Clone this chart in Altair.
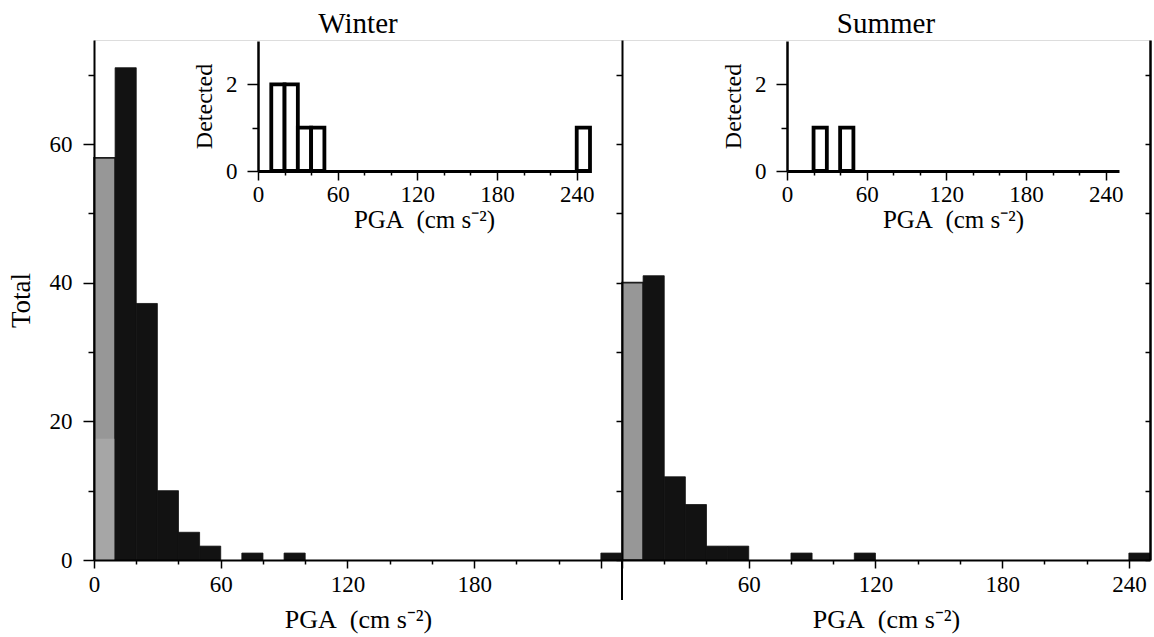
import altair as alt
import pandas as pd

# ---------------- data ----------------
bin_lo = list(range(0, 250, 10))            # PGA bins, width 10 cm s^-2
bin_w = 10
winter_total = [58, 71, 37, 10, 4, 2, 0, 1, 0, 1] + [0] * 14 + [1]
summer_total = [40, 41, 12, 8, 2, 2, 0, 0, 1, 0, 0, 1] + [0] * 12 + [1]
winter_detected = [0, 2, 2, 1, 1] + [0] * 19 + [1]
summer_detected = [0, 0, 1, 0, 1] + [0] * 19 + [0]
shaded_bin = 0                               # first bin drawn grey
winter_lower_band = 17.5                     # lighter grey lower part (winter)
x_ticks = list(range(0, 241, 20))
y_ticks = list(range(0, 71, 10))
inset_y_ticks = [0, 1, 2]

# ---------------- layout ----------------
PW = 528            # one panel width (px)
H = 520             # plot height
W = 2 * PW
FONT = "Liberation Serif"
inset_x_rng = (164, 496)
inset_y_rng = (131, 1)
inset_shift = 529   # summer inset offset relative to winter inset


def main_df(counts, lower_band=None):
    rows = []
    for lo, c in zip(bin_lo, counts):
        if c <= 0:
            continue
        if lo // bin_w == shaded_bin:
            rows.append(dict(x0=lo, x1=lo + bin_w, y0=0, y1=c,
                             fill="#979797", stroke="#1e1e1e", sw=1.6))
            if lower_band is not None:
                rows.append(dict(x0=lo + 0.3, x1=lo + bin_w - 0.3, y0=0, y1=lower_band,
                                 fill="#a6a6a6", stroke="#a6a6a6", sw=0))
        else:
            rows.append(dict(x0=lo, x1=lo + bin_w, y0=0, y1=c,
                             fill="#121212", stroke="#121212", sw=0.8))
    return pd.DataFrame(rows)


def inset_df(counts):
    rows = [dict(x0=lo, x1=lo + bin_w, y0=0, y1=c)
            for lo, c in zip(bin_lo, counts) if c > 0]
    return pd.DataFrame(rows)


common_axis = dict(domainColor="black", tickColor="black", labelColor="black",
                   titleColor="black", labelFont=FONT, titleFont=FONT,
                   titleFontWeight="normal", grid=False, zindex=1)

PGA_TITLE = "PGA\u00a0\u00a0(cm s\u207b\u00b2)"


def main_x_axis(label_test):
    return alt.Axis(orient="bottom", values=x_ticks,
                    labelExpr=f"({label_test}) ? datum.label : ''",
                    tickSize={"condition": {"test": "datum.value % 60 === 0", "value": 8}, "value": 4},
                    tickWidth=1.5, domainWidth=2, labelFontSize=23, titleFontSize=26,
                    labelFlush=False, labelOverlap=False, labelPadding=5,
                    title=PGA_TITLE, titlePadding=10, **common_axis)


def main_layer(df, x_range, x_axis, y_axis):
    return alt.Chart(df).mark_rect().encode(
        x=alt.X("x0:Q", scale=alt.Scale(domain=[0, 250], range=list(x_range)), axis=x_axis),
        x2="x1:Q",
        y=alt.Y("y1:Q", scale=alt.Scale(domain=[0, 75], range=[H, 0]), axis=y_axis),
        y2="y0:Q",
        fill=alt.Fill("fill:N", scale=None),
        stroke=alt.Stroke("stroke:N", scale=None),
        strokeWidth=alt.StrokeWidth("sw:Q", scale=None),
    )


left_y_axis = alt.Axis(orient="left", values=y_ticks,
                       labelExpr="datum.value % 20 === 0 ? datum.label : ''",
                       tickSize={"condition": {"test": "datum.value % 20 === 0", "value": 11}, "value": 6},
                       tickWidth=1.5, domainWidth=2, labelFontSize=23, titleFontSize=27,
                       labelPadding=11, title="Total", titlePadding=14, **common_axis)
right_y_axis = alt.Axis(orient="left", offset=-PW, values=y_ticks, labels=False, title=None,
                        tickSize=6, tickWidth=1.5, domainWidth=2, **common_axis)

left_main = main_layer(main_df(winter_total, winter_lower_band), (0, PW),
                       main_x_axis("datum.value % 60 === 0 && datum.value < 240"), left_y_axis)
right_main = main_layer(main_df(summer_total), (PW, W),
                        main_x_axis("datum.value % 60 === 0 && datum.value > 0"), right_y_axis)

# right border + downward extension of the summer y axis
border = alt.Chart(pd.DataFrame({"v": [0]})).mark_rule(color="black", strokeWidth=2).encode(
    x=alt.value(PW),
    y=alt.Y("v:Q", scale=alt.Scale(domain=[0, 75], range=[H, 0]),
            axis=alt.Axis(orient="left", offset=-W, values=y_ticks, labels=False, title=None,
                          tickSize=5, tickWidth=1.5, domainWidth=2.5, **common_axis)),
    y2=alt.value(H + 40),
)


def inset_layer(df, shift):
    xr = [inset_x_rng[0] + shift, inset_x_rng[1] + shift]
    return alt.Chart(df).mark_rect(fill="white", stroke="black", strokeWidth=3.8).encode(
        x=alt.X("x0:Q", scale=alt.Scale(domain=[0, 250], range=xr),
                axis=alt.Axis(orient="bottom", offset=-(H - inset_y_rng[0]), values=x_ticks,
                              labelExpr="datum.value % 60 === 0 ? datum.label : ''",
                              tickSize={"condition": {"test": "datum.value % 60 === 0", "value": 9}, "value": 4},
                              tickWidth=1.5, domainWidth=3, labelFontSize=23, titleFontSize=25,
                              labelFlush=False, labelOverlap=False, labelPadding=3,
                              title=PGA_TITLE, titlePadding=1, **common_axis)),
        x2="x1:Q",
        y=alt.Y("y1:Q", scale=alt.Scale(domain=[0, 3], range=list(inset_y_rng)),
                axis=alt.Axis(orient="left", offset=-xr[0], values=inset_y_ticks,
                              labelExpr="datum.value === 1 ? '' : datum.label",
                              tickSize={"condition": {"test": "datum.value === 1", "value": 6}, "value": 11},
                              tickWidth=1.5, domainWidth=2.5, labelFontSize=23, titleFontSize=24,
                              labelPadding=10, title="Detected", titlePadding=9, **common_axis)),
        y2="y0:Q",
    )


winter_inset = inset_layer(inset_df(winter_detected), 0)
summer_inset = inset_layer(inset_df(summer_detected), inset_shift)

title_w = alt.Chart(pd.DataFrame({"t": ["Winter"]})).mark_text(
    font=FONT, fontSize=29, baseline="alphabetic", color="black").encode(
    text="t:N", x=alt.value(PW / 2), y=alt.value(-7))
title_s = alt.Chart(pd.DataFrame({"t": ["Summer"]})).mark_text(
    font=FONT, fontSize=29, baseline="alphabetic", color="black").encode(
    text="t:N", x=alt.value(PW * 1.5), y=alt.value(-7))

chart = alt.layer(left_main, right_main, border, winter_inset, summer_inset, title_w, title_s).resolve_scale(
    x="independent", y="independent").resolve_axis(x="independent", y="independent").properties(
    width=W, height=H,
    autosize=alt.AutoSizeParams(type="none"),
    padding={"left": 94, "top": 40, "right": 2, "bottom": 77},
).configure_view(stroke=None).configure(background="white")

chart.save("out.html", embed_options={"renderer": "svg", "actions": False})
